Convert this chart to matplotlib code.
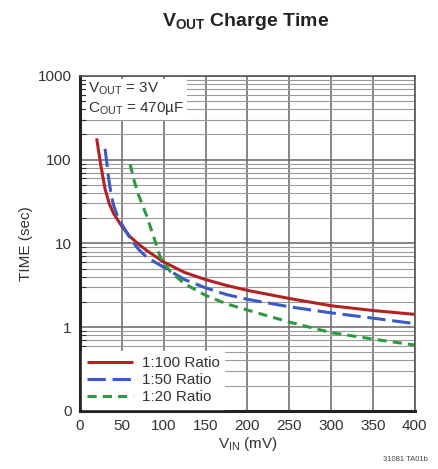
import numpy as np
import matplotlib
matplotlib.use("Agg")
import matplotlib.pyplot as plt
from matplotlib.ticker import FixedLocator, LogLocator, NullFormatter

plt.rcParams['font.family'] = ['Liberation Sans Narrow', 'Liberation Sans', 'DejaVu Sans']
plt.rcParams['mathtext.fontset'] = 'custom'
plt.rcParams['mathtext.rm'] = 'Liberation Sans'
plt.rcParams['mathtext.bf'] = 'Liberation Sans:bold'

# values (V_IN in mV, time in sec)
vin_100 = [20, 25, 30, 35, 40, 50, 60, 70, 80, 100, 125, 150, 175, 200, 250, 300, 350, 400]
t_100 = [180, 85, 45, 30, 23, 16, 12, 9.8, 8.2, 6.0, 4.5, 3.7, 3.15, 2.75, 2.2, 1.8, 1.58, 1.42]

vin_50 = [30, 32, 34, 37, 40, 45, 50, 60, 70, 80, 100, 125, 150, 175, 200, 250, 300, 350, 400]
t_50 = [135, 95, 63, 40, 29, 21, 17, 11.5, 8.5, 6.8, 5.2, 3.7, 2.95, 2.45, 2.15, 1.75, 1.48, 1.28, 1.1]

vin_20 = [60, 65, 70, 80, 90, 96, 108, 125, 150, 175, 200, 250, 300, 350, 400]
t_20 = [88, 55, 38, 21, 10.5, 6.8, 4.6, 3.3, 2.4, 1.9, 1.6, 1.15, 0.86, 0.72, 0.61]

labels = ['1:100 Ratio', '1:50 Ratio', '1:20 Ratio']
colors = ['#b22222', '#3a5bc7', '#2e9a3e']

fig = plt.figure(figsize=(4.39, 4.69), dpi=100)
ax = fig.add_axes([0.182, 0.124, 0.763, 0.714])

ax.set_yscale('log')
ax.set_xlim(0, 400)
ax.set_ylim(0.1, 1000)

ax.xaxis.set_major_locator(FixedLocator([0, 50, 100, 150, 200, 250, 300, 350, 400]))
ax.yaxis.set_major_locator(FixedLocator([0.1, 1, 10, 100, 1000]))
ax.set_yticklabels(['0', '1', '10', '100', '1000'])
ax.yaxis.set_minor_locator(LogLocator(base=10, subs=np.arange(2, 10)))
ax.yaxis.set_minor_formatter(NullFormatter())

ax.grid(True, which='major', axis='both', color='#666666', lw=1.1)
ax.grid(True, which='minor', axis='y', color='#9a9a9a', lw=0.8)
ax.set_axisbelow(True)

ax.tick_params(axis='both', which='both', direction='in', labelsize=11, colors='#333333',
               labelcolor='#333333')
ax.tick_params(axis='both', which='major', length=0, pad=6)
ax.tick_params(axis='y', which='minor', length=4, width=0.8)

for s in ['left', 'bottom']:
    ax.spines[s].set_linewidth(2.2)
    ax.spines[s].set_color('#222222')
for s in ['top', 'right']:
    ax.spines[s].set_linewidth(1.2)
    ax.spines[s].set_color('#555555')

l1, = ax.plot(vin_100, t_100, color=colors[0], lw=2.2, solid_capstyle='butt')
l2, = ax.plot(vin_50, t_50, color=colors[1], lw=2.2, dashes=(6, 2.2))
l3, = ax.plot(vin_20, t_20, color=colors[2], lw=2.2, dashes=(3, 2))

leg = ax.legend([l1, l2, l3], labels, loc='lower left', fontsize=11, frameon=True,
                fancybox=False, framealpha=1, edgecolor='white', borderpad=0.3,
                labelspacing=0.2, handlelength=3.0, handletextpad=0.6,
                borderaxespad=0.15)
for t in leg.get_texts():
    t.set_color('#333333')

ax.text(0.025, 0.985, '$\\mathregular{V_{OUT}}$ = 3V\n$\\mathregular{C_{OUT}}$ = 470µF',
        transform=ax.transAxes, ha='left', va='top', fontsize=11, color='#333333',
        linespacing=1.2,
        bbox=dict(facecolor='white', edgecolor='none', pad=2))

ax.set_xlabel('$\\mathregular{V_{IN}}$ (mV)', fontsize=11, color='#333333', labelpad=1)
ax.set_ylabel('TIME (sec)', fontsize=11, color='#333333', labelpad=3)

fig.text(0.56, 0.955, '$\\mathbf{V_{OUT}}$ Charge Time', ha='center', va='center',
         fontsize=14, fontweight='bold', color='#222222')
fig.text(0.975, 0.012, '31081 TA01b', ha='right', va='bottom', fontsize=5.5, color='#444444')

fig.savefig('out.png', dpi=100)
